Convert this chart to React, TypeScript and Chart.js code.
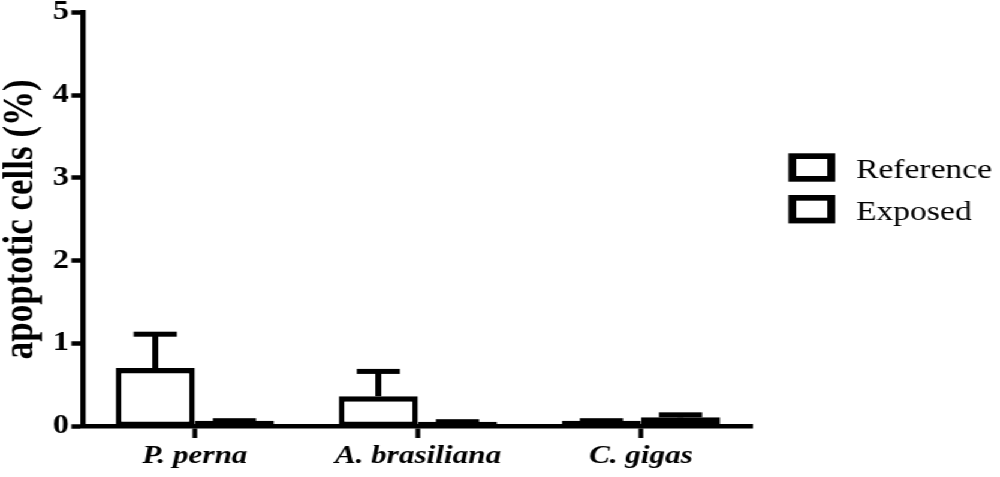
import React, { useEffect, useRef } from 'react';
import { Chart, registerables } from 'chart.js';

Chart.register(...registerables);

// ---- data ----
const categories = ['P. perna', 'A. brasiliana', 'C. gigas'];
const seriesNames = ['Reference', 'Exposed'];
const referenceValues = [0.7, 0.36, 0.064];
const exposedValues = [0.064, 0.052, 0.105];
const referenceErrors = [0.41, 0.3, 0.0];
const exposedErrors = [0.0, 0.0, 0.03];
const yTicks = [0, 1, 2, 3, 4, 5];

// ---- layout ----
const W = 834;
const H = 477;
const STRETCH = 1000 / W;
const FONT = "'Liberation Serif', 'Times New Roman', serif";

const errorBarPlugin = {
  id: 'errorBars',
  afterDatasetsDraw(chart: any) {
    const ctx = chart.ctx;
    const y = chart.scales.y;
    chart.data.datasets.forEach((ds: any, di: number) => {
      const meta = chart.getDatasetMeta(di);
      meta.data.forEach((bar: any, i: number) => {
        const v = ds.data[i];
        const e = ds.errors[i];
        const top = y.getPixelForValue(v + e);
        const x = bar.x;
        ctx.save();
        ctx.fillStyle = '#000';
        if (e > 0) ctx.fillRect(x - 2.5, top, 5, bar.y - top);
        ctx.fillRect(x - 18, top - 2.5, 36, 5);
        ctx.restore();
      });
    });
  },
};

const legendPlugin = {
  id: 'customLegend',
  afterDraw(chart: any) {
    const ctx = chart.ctx;
    const boxX = 657.5;
    const boxW = 39;
    const boxH = 28.4;
    const boxTops = [153.3, 195];
    const textX = 714;
    ctx.save();
    chart.data.datasets.forEach((ds: any, i: number) => {
      const t = boxTops[i];
      ctx.fillStyle = '#000';
      ctx.fillRect(boxX, t, boxW, boxH);
      ctx.fillStyle = '#fff';
      ctx.fillRect(boxX + 6.5, t + 5.7, boxW - 13, boxH - 11.4);
      ctx.fillStyle = '#000';
      ctx.font = `28px ${FONT}`;
      ctx.textAlign = 'left';
      ctx.textBaseline = 'alphabetic';
      ctx.fillText(ds.label, textX, t + 24.5);
    });
    ctx.restore();
  },
};

export default function App() {
  const ref = useRef<HTMLCanvasElement | null>(null);

  useEffect(() => {
    document.body.style.margin = '0';
    const canvas = ref.current;
    if (!canvas) return;
    const chart = new Chart(canvas, {
      type: 'bar',
      data: {
        labels: categories,
        datasets: [
          {
            label: seriesNames[0],
            data: referenceValues,
            errors: referenceErrors,
            backgroundColor: '#fff',
            borderColor: '#000',
            borderWidth: { top: 5.5, left: 4.75, right: 4.75, bottom: 4 },
            borderSkipped: false,
            categoryPercentage: 0.71,
            barPercentage: 1,
          } as any,
          {
            label: seriesNames[1],
            data: exposedValues,
            errors: exposedErrors,
            backgroundColor: '#fff',
            borderColor: '#000',
            borderWidth: { top: 5.5, left: 4.75, right: 4.75, bottom: 4 },
            borderSkipped: false,
            categoryPercentage: 0.71,
            barPercentage: 1,
          } as any,
        ],
      },
      options: {
        responsive: false,
        animation: false,
        devicePixelRatio: 1,
        layout: { padding: { top: 12.5, right: 206.4, bottom: 0, left: 0 } },
        plugins: {
          legend: { display: false },
          tooltip: { enabled: false },
        },
        scales: {
          x: {
            type: 'category',
            offset: true,
            grid: {
              display: true,
              drawOnChartArea: false,
              drawTicks: true,
              tickLength: 12,
              tickWidth: 4,
              tickColor: '#000',
              offset: false,
            },
            border: { display: true, color: '#000', width: 4.5 },
            ticks: {
              color: '#000',
              font: { family: FONT, size: 26, weight: 'bold', style: 'italic' },
              padding: 3,
              maxRotation: 0,
              autoSkip: false,
            },
            afterFit: (s: any) => {
              s.height = 51;
              s.paddingLeft = 0;
              s.paddingRight = 0;
            },
          },
          y: {
            min: 0,
            max: 5,
            afterBuildTicks: (s: any) => {
              s.ticks = yTicks.map((v) => ({ value: v }));
            },
            grid: {
              display: true,
              drawOnChartArea: false,
              drawTicks: true,
              tickLength: 10,
              tickWidth: 4.5,
              tickColor: '#000',
            },
            border: { display: true, color: '#000', width: 4.4 },
            ticks: {
              color: '#000',
              font: { family: FONT, size: 27, weight: 'bold' },
              padding: 2,
            },
            title: {
              display: true,
              text: 'apoptotic cells (%)',
              color: '#000',
              font: { family: FONT, size: 35, weight: 'bold', lineHeight: 1 },
              padding: 0,
            },
            afterFit: (s: any) => {
              s.width = 69.5;
              s.paddingTop = 0;
              s.paddingBottom = 0;
            },
          },
        },
      } as any,
      plugins: [errorBarPlugin, legendPlugin],
    });
    return () => chart.destroy();
  }, []);

  return (
    <div
      style={{
        position: 'fixed',
        left: 0,
        top: 0,
        width: W,
        height: H,
        background: '#fff',
        transform: `scaleX(${STRETCH})`,
        transformOrigin: '0 0',
      }}
    >
      <canvas ref={ref} width={W} height={H} style={{ display: 'block', width: W, height: H }} />
    </div>
  );
}
